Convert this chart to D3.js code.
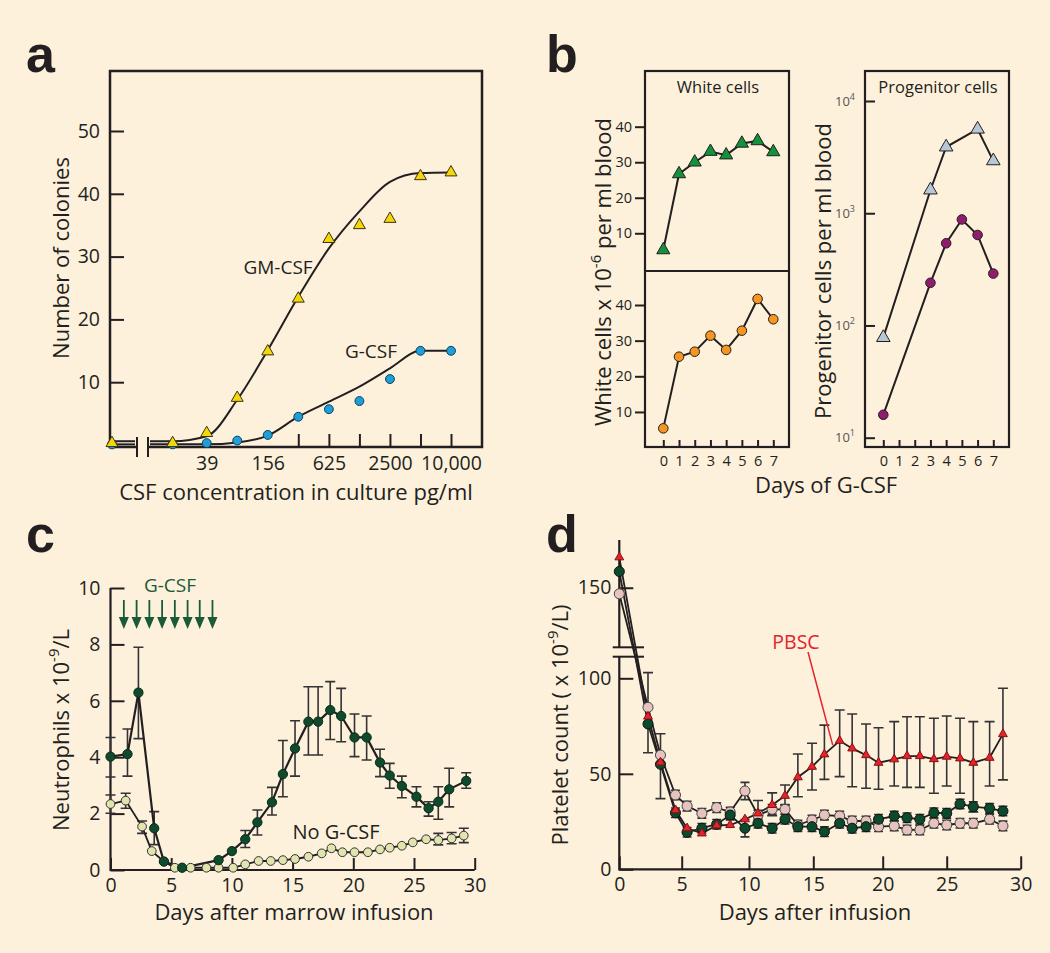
<!DOCTYPE html>
<html>
<head>
<meta charset="UTF-8" />
<title>G-CSF effects</title>
<style>
  body { margin: 0; background: #fdf1dc; }
  svg { display: block; }
  text { font-family: "Open Sans", sans-serif; fill: #231f20; }
</style>
</head>
<body>
<svg id="fig" width="1050" height="953"></svg>
<script src="https://d3js.org/d3.v7.min.js"></script>
<script>
// ---------- panel a : colonies vs CSF concentration ----------
const aConc    = [0, 18, 39, 78, 156, 312, 625, 1250, 2500, 5000, 10000];
const aGM      = [0.3, 0.3, 1.9, 7.5, 14.9, 23.3, 32.8, 35.0, 36.0, 42.8, 43.4];
const aG       = [0.1, 0.1, 0.3, 0.7, 1.6, 4.5, 5.7, 7.0, 10.5, 15.0, 15.0];
const aGMFit   = [0.6, 0.6, 1.4, 7.2, 15.1, 23.6, 31.3, 37.2, 41.9, 43.3, 43.4];
const aGFit    = [0.1, 0.1, 0.1, 0.4, 1.5, 4.5, 6.9, 9.3, 12.2, 15.0, 15.0];
const aYTicks  = [10, 20, 30, 40, 50];
const aXTicks  = [312, 625, 1250, 2500, 5000, 10000];
const aXLabels = [39, 156, 625, 2500, 10000];

// ---------- panel b : white cells / progenitors ----------
const bDays      = [0, 1, 2, 3, 4, 5, 6, 7];
const bWhiteTop  = [5.3, 26.7, 30.0, 33.0, 32.0, 35.3, 36.0, 32.9];
const bWhiteBot  = [5.4, 25.5, 26.9, 31.4, 27.4, 32.8, 41.7, 36.0];
const bGrayDays  = [0, 3, 4, 6, 7];
const bGray      = [78, 1610, 3890, 5610, 2930];
const bPurpDays  = [0, 3, 4, 5, 6, 7];
const bPurple    = [16, 240, 540, 880, 640, 290];
const bWhiteTicks = [10, 20, 30, 40];
const bLogTicks  = [10, 100, 1000, 10000];

// ---------- panel c : neutrophils ----------
const cDaysG = [0, 1.4, 2.3, 3.6, 4.4, 5.9, 8.9, 10.0, 11.1, 12.1, 13.3, 14.2, 15.2, 16.3, 17.1, 18.1, 19.0, 20.1, 21.1, 22.2, 23.0, 24.0, 25.2, 26.2, 27.0, 27.9, 29.3];
const cG     = [4.02, 4.11, 6.29, 1.48, 0.3, 0.08, 0.35, 0.67, 1.09, 1.69, 2.40, 3.40, 4.31, 5.26, 5.26, 5.67, 5.46, 4.70, 4.70, 3.81, 3.35, 2.98, 2.60, 2.19, 2.42, 2.86, 3.16];
const cGHi   = [4.7, 5.0, 7.9, 2.07, null, null, null, null, 1.4, 2.13, 2.93, 4.59, 5.29, 6.5, 6.5, 6.68, 6.44, 5.53, 5.46, 4.28, 3.78, 3.33, 2.95, 2.42, 2.95, 3.61, 3.45];
const cGLo   = [3.3, 3.33, 4.66, 0.9, null, null, null, null, 0.8, 1.24, 1.95, 2.60, 3.33, 4.08, 4.08, 4.63, 4.55, 4.02, 3.9, 3.31, 2.9, 2.56, 2.24, 1.91, 1.8, 2.24, 2.9];
const cDaysN = [0, 1.25, 2.6, 3.4, 4.4, 5.3, 6.6, 7.9, 8.9, 10.1, 11.1, 12.2, 13.2, 14.2, 15.2, 16.3, 17.4, 18.2, 19.1, 20.1, 21.2, 22.2, 23.0, 24.0, 24.9, 26.0, 27.0, 28.1, 29.1];
const cN     = [2.34, 2.46, 1.54, 0.67, 0.30, 0.08, 0.08, 0.08, 0.08, 0.08, 0.2, 0.32, 0.32, 0.35, 0.39, 0.47, 0.59, 0.77, 0.63, 0.63, 0.63, 0.73, 0.79, 0.86, 0.98, 1.09, 1.06, 1.12, 1.22];
const cNHi   = [2.66, 2.72, 1.74, null, null, null, null, null, null, null, null, null, null, null, null, null, null, null, null, null, null, null, null, null, null, null, 1.3, 1.33, 1.48];
const cNLo   = [2.01, 2.19, 1.3, null, null, null, null, null, null, null, null, null, null, null, null, null, null, null, null, null, null, null, null, null, null, null, 0.89, 0.93, 0.97];
const cArrowDays = [1.1, 2.15, 3.2, 4.25, 5.3, 6.35, 7.35, 8.4];
const cYTicks = [0, 2, 4, 6, 8, 10];
const cXTicks = [0, 5, 10, 15, 20, 25, 30];

// ---------- panel d : platelets ----------
const dDays  = [0, 2.3, 3.3, 4.5, 5.4, 6.5, 7.6, 8.6, 9.7, 10.7, 11.8, 12.8, 13.8, 14.9, 15.8, 16.9, 17.8, 18.8, 19.7, 20.9, 21.9, 22.9, 24.0, 25.0, 25.9, 26.8, 27.9, 28.8];
const dPBSC  = [165, 80, 56, 31, 21.5, 18.8, 23.0, 23.2, 26.2, 29.3, 33.7, 38.5, 48.2, 53.7, 60.2, 67.3, 63.3, 59.8, 55.8, 57.6, 59.3, 59.3, 57.7, 59.0, 58.1, 55.8, 58.4, 70.8];
const dPBSCHi = [null, 103, 71, null, null, null, null, null, null, 36, 40, 44.1, 60.4, 66, 75.5, 83.4, 81.3, 76.1, 74.1, 77.3, 79.9, 79.9, 79.1, 80.3, 79.1, 77.3, 77.3, 94.8];
const dPBSCLo = [null, 61, 37, null, null, null, null, null, null, 24, 28, 33.7, 38.0, 41.5, 47.1, 48.5, 43.2, 42.4, 41.9, 43.6, 42.9, 42.9, 39.8, 43.6, 39.8, 30, 43.6, 46.8];
const dGreen = [158, 76.1, 55.0, 29.6, 19.4, 21.5, 23.6, 28.4, 21.5, 24.1, 21.5, 26.2, 22.3, 22.3, 19.7, 24.1, 21.5, 22.3, 26.2, 27.9, 27.0, 26.2, 29.6, 29.3, 34.2, 32.8, 31.9, 30.5];
const dPink  = [147, 84.8, 59.8, 38.9, 33.1, 29.3, 32.3, 30.0, 41.0, 28.4, 31.4, 31.4, 23.2, 25.8, 28.4, 27.9, 25.3, 25.3, 22.3, 22.7, 20.6, 20.6, 24.1, 23.2, 24.1, 24.1, 26.2, 22.7];
const dSmallErr = [null, null, null, 2.5, 2.5, 2.5, 2.5, 2.5, 4.5, 2.5, 2.5, 2.5, 2.5, 2.5, 2.5, 2.5, 2.5, 2.5, 2.5, 2.5, 2.5, 2.5, 2.5, 2.5, 2.5, 2.5, 2.5, 2.5];
const dYTicks = [0, 50, 100, 150];
const dXTicks = [0, 5, 10, 15, 20, 25, 30];

const ink = "#231f20";
const svg = d3.select("#fig");

// ---------- helpers ----------
function pts(xs, ys) { return xs.map((x, i) => ({ x, y: ys[i], i })); }

function drawLine(g, data, xf, yf, width, curve) {
  g.append("path")
    .datum(data)
    .attr("fill", "none")
    .attr("stroke", ink)
    .attr("stroke-width", width || 2)
    .attr("d", d3.line().x(d => xf(d.x)).y(d => yf(d.y)).curve(curve || d3.curveLinear));
}

function drawSymbols(g, data, xf, yf, type, size, fill, stroke) {
  g.selectAll(null)
    .data(data)
    .enter()
    .append("path")
    .attr("transform", d => `translate(${xf(d.x)},${yf(d.y)})`)
    .attr("d", d3.symbol().type(type).size(size))
    .attr("fill", fill)
    .attr("stroke", stroke || ink)
    .attr("stroke-width", 1);
}

function errorBars(g, xs, lo, hi, xf, yf, cap) {
  const data = xs.map((x, i) => ({ x, lo: lo[i], hi: hi[i] })).filter(d => d.lo != null);
  const eb = g.append("g").attr("stroke", "#333").attr("stroke-width", 1.6).attr("fill", "none");
  eb.selectAll(null).data(data).enter().append("path")
    .attr("d", d => {
      const x = xf(d.x), a = yf(d.hi), b = yf(d.lo);
      return `M${x},${a}V${b}M${x - cap / 2},${a}H${x + cap / 2}M${x - cap / 2},${b}H${x + cap / 2}`;
    });
}

function styleAxis(g, size) {
  g.attr("font-size", size).attr("color", ink);
  g.select(".domain").remove();
  g.selectAll("line").attr("stroke-width", 2);
}

function label(txt, x, y, size, opts) {
  opts = opts || {};
  const t = svg.append("text")
    .attr("x", x).attr("y", y)
    .attr("font-size", size)
    .attr("text-anchor", opts.anchor || "middle")
    .text(txt);
  if (opts.fill) t.style("fill", opts.fill);
  if (opts.bold) t.attr("font-weight", "bold");
  if (opts.family) t.style("font-family", opts.family);
  return t;
}

// rotated title with a superscript part: parts = [normal, sup, normal]
function rotatedTitle(parts, cx, cy, size) {
  const t = svg.append("text")
    .attr("transform", `translate(${cx},${cy}) rotate(-90)`)
    .attr("text-anchor", "middle")
    .attr("dy", "0.35em")
    .attr("font-size", size);
  t.append("tspan").text(parts[0]);
  if (parts.length > 1) {
    t.append("tspan").attr("font-size", size * 0.68).attr("dy", -size * 0.42).text(parts[1]);
    t.append("tspan").attr("dy", size * 0.42).text(parts[2]);
  }
  return t;
}

function panelLetter(ch, x, y) {
  label(ch, x, y, 52, { anchor: "start", bold: true, family: "'Liberation Sans', Arial, sans-serif" });
}

// ================= panel a =================
{
  const g = svg.append("g");
  const xa = d3.scaleLog().base(2).domain([39, 10000]).range([206.7, 451]);
  const ya = d3.scaleLinear().domain([0, 50]).range([445, 131]);
  const zeroX = 112;       // the "no CSF" control sits left of the axis break
  const xA = c => c === 0 ? zeroX : xa(c);
  const brk = [137, 148];

  g.append("path")
    .attr("d", `M${brk[0]},447H110V71H482V447H${brk[1]}`)
    .attr("fill", "none").attr("stroke", ink).attr("stroke-width", 2.5);
  brk.forEach(b => g.append("line").attr("x1", b).attr("x2", b).attr("y1", 437).attr("y2", 457)
    .attr("stroke", ink).attr("stroke-width", 2));

  const ax = g.append("g").attr("transform", "translate(110,0)")
    .call(d3.axisLeft(ya).tickValues(aYTicks).tickSize(-14).tickPadding(10));
  styleAxis(ax, 19.5);

  const bx = g.append("g").attr("transform", "translate(0,447)")
    .call(d3.axisBottom(xa).tickValues(aXTicks).tickSize(-13).tickFormat(""));
  styleAxis(bx, 19.5);
  const bl = g.append("g").attr("transform", "translate(0,447)")
    .call(d3.axisBottom(xa).tickValues(aXLabels).tickSize(0).tickPadding(9)
      .tickFormat(d => d === 10000 ? "10,000" : d));
  styleAxis(bl, 19.5);

  // fitted curves: control segment up to the break, then the curve
  [aGMFit, aGFit].forEach(fit => {
    drawLine(g, [{ x: zeroX, y: fit[0] }, { x: brk[0] - 2, y: fit[0] }], d => d, ya, 2);
    const data = [{ x: brk[1] + 2, y: fit[1] }].concat(aConc.slice(1).map((c, i) => ({ x: xa(c), y: fit[i + 1] })));
    drawLine(g, data, d => d, ya, 2, d3.curveMonotoneX);
  });

  drawSymbols(g, pts(aConc, aG), xA, ya, d3.symbolCircle, 62, "#1e9fd8", "#0b3f5e");
  drawSymbols(g, pts(aConc, aGM), xA, ya, d3.symbolTriangle, 62, "#f4d60b", "#3a3416");

  label("GM-CSF", 278, 274, 19);
  label("G-CSF", 371, 358, 19);
  rotatedTitle(["Number of colonies"], 61, 258, 22);
  label("CSF concentration in culture pg/ml", 296, 500, 22);
  panelLetter("a", 26, 72);
}

// ================= panel b =================
{
  const g = svg.append("g");
  const xw = d3.scaleLinear().domain([0, 7]).range([663.3, 773.3]);
  const yTop = d3.scaleLinear().domain([0, 40]).range([268.8, 126.7]);
  const yBot = d3.scaleLinear().domain([0, 40]).range([447.6, 305]);
  const xp = d3.scaleLinear().domain([0, 7]).range([883.3, 993.3]);
  const yp = d3.scaleLog().domain([10, 10000]).range([437.7, 101]);

  g.append("rect").attr("x", 645).attr("y", 71).attr("width", 144).attr("height", 376)
    .attr("fill", "none").attr("stroke", ink).attr("stroke-width", 2.2);
  g.append("line").attr("x1", 645).attr("x2", 789).attr("y1", 271).attr("y2", 271)
    .attr("stroke", ink).attr("stroke-width", 2.2);
  g.append("rect").attr("x", 865).attr("y", 71).attr("width", 144).attr("height", 376)
    .attr("fill", "none").attr("stroke", ink).attr("stroke-width", 2.2);

  [yTop, yBot].forEach(ys => {
    const a = g.append("g").attr("transform", "translate(645,0)")
      .call(d3.axisLeft(ys).tickValues(bWhiteTicks).tickSize(10).tickPadding(3));
    styleAxis(a, 14.5);
  });
  const aw = g.append("g").attr("transform", "translate(0,447)")
    .call(d3.axisBottom(xw).tickValues(bDays).tickSize(-7).tickPadding(9).tickFormat(d3.format("d")));
  styleAxis(aw, 14.5);
  const ap = g.append("g").attr("transform", "translate(0,447)")
    .call(d3.axisBottom(xp).tickValues(bDays).tickSize(-7).tickPadding(9).tickFormat(d3.format("d")));
  styleAxis(ap, 14.5);

  const al = g.append("g").attr("transform", "translate(865,0)")
    .call(d3.axisLeft(yp).tickValues(bLogTicks).tickSize(-10).tickPadding(10).tickFormat(""));
  styleAxis(al, 13);
  al.selectAll(".tick text").each(function (d) {
    const t = d3.select(this).style("fill", "#555");
    t.append("tspan").text("10");
    t.append("tspan").attr("font-size", 9).attr("dy", -6).text(Math.round(Math.log10(d)));
  });

  drawLine(g, pts(bDays, bWhiteTop), xw, yTop);
  drawSymbols(g, pts(bDays, bWhiteTop), xw, yTop, d3.symbolTriangle, 75, "#13923b");
  drawLine(g, pts(bDays, bWhiteBot), xw, yBot);
  drawSymbols(g, pts(bDays, bWhiteBot), xw, yBot, d3.symbolCircle, 72, "#f6951f");

  drawLine(g, pts(bGrayDays, bGray), xp, yp);
  drawSymbols(g, pts(bGrayDays, bGray), xp, yp, d3.symbolTriangle, 80, "#b8c7d6");
  drawLine(g, pts(bPurpDays, bPurple), xp, yp);
  drawSymbols(g, pts(bPurpDays, bPurple), xp, yp, d3.symbolCircle, 72, "#8f1c6c");

  label("White cells", 718, 93, 16.5);
  label("Progenitor cells", 938, 93, 16.5);
  rotatedTitle(["White cells x 10", "-6", " per ml blood"], 603, 272, 22);
  rotatedTitle(["Progenitor cells per ml blood"], 823, 271, 22);
  label("Days of G-CSF", 826, 493, 22);
  panelLetter("b", 546, 72);
}

// ================= panel c =================
{
  const g = svg.append("g");
  const xc = d3.scaleLinear().domain([0, 30]).range([110.5, 474.7]);
  const yc = d3.scaleLinear().domain([0, 10]).range([870, 588]);

  g.append("path").attr("d", `M${xc(0)},${yc(10)}V${yc(0)}H${xc(30)}`)
    .attr("fill", "none").attr("stroke", ink).attr("stroke-width", 2.2);
  const ay = g.append("g").attr("transform", `translate(${xc(0)},0)`)
    .call(d3.axisLeft(yc).tickValues(cYTicks).tickSize(-14).tickPadding(10));
  styleAxis(ay, 19.5);
  const ax = g.append("g").attr("transform", `translate(0,${yc(0)})`)
    .call(d3.axisBottom(xc).tickValues(cXTicks).tickSize(-12).tickPadding(8));
  styleAxis(ax, 19.5);

  errorBars(g, cDaysN, cNLo, cNHi, xc, yc, 10);
  errorBars(g, cDaysG, cGLo, cGHi, xc, yc, 10);
  drawLine(g, pts(cDaysN, cN), xc, yc, 1.8);
  drawLine(g, pts(cDaysG, cG), xc, yc, 2.2);
  drawSymbols(g, pts(cDaysN, cN), xc, yc, d3.symbolCircle, 60, "#e2e4b0", "#333");
  drawSymbols(g, pts(cDaysG, cG), xc, yc, d3.symbolCircle, 68, "#0e4a2b", "#0a2a18");

  // G-CSF injection arrows
  const arrowCol = "#1b5a38";
  const ar = g.append("g").selectAll(null).data(cArrowDays).enter().append("g")
    .attr("transform", d => `translate(${xc(d)},0)`);
  ar.append("line").attr("y1", 600).attr("y2", 619).attr("stroke", arrowCol).attr("stroke-width", 1.8);
  ar.append("path").attr("d", "M-5,617L5,617L0,629Z").attr("fill", arrowCol);

  label("G-CSF", 170, 592, 19).style("fill", arrowCol);
  label("No G-CSF", 336, 839, 20);
  rotatedTitle(["Neutrophils x 10", "-9", "/L"], 61, 730, 22);
  label("Days after marrow infusion", 294, 920, 22);
  panelLetter("c", 26, 552);
}

// ================= panel d =================
{
  const g = svg.append("g");
  const xd = d3.scaleLinear().domain(dXTicks).range([619.3, 681.7, 749, 813.3, 882.7, 946.7, 1020.7]);
  // broken axis: 0-111 below the break, 121-175 above it
  const yd = d3.scaleLinear().domain([0, 111, 121, 175]).range([869.3, 657.3, 646.6, 537]);
  const x0 = xd(0);

  g.append("path").attr("d", `M${x0},540V647.3M${x0},656.7V${yd(0)}H${xd(30)}`)
    .attr("fill", "none").attr("stroke", ink).attr("stroke-width", 2.2);
  [647.3, 656.7].forEach(y => g.append("line").attr("x1", 612.7).attr("x2", 644).attr("y1", y).attr("y2", y)
    .attr("stroke", ink).attr("stroke-width", 2));

  const ay = g.append("g").attr("transform", `translate(${x0},0)`)
    .call(d3.axisLeft(yd).tickValues(dYTicks).tickSize(-14).tickPadding(8));
  styleAxis(ay, 19.5);
  const ax = g.append("g").attr("transform", `translate(0,${yd(0)})`)
    .call(d3.axisBottom(xd).tickValues(dXTicks).tickSize(-13).tickPadding(8));
  styleAxis(ax, 19.5);

  errorBars(g, dDays, dPBSCLo, dPBSCHi, xd, yd, 10);
  const lo = arr => arr.map((v, i) => dSmallErr[i] == null ? null : v - dSmallErr[i]);
  const hi = arr => arr.map((v, i) => dSmallErr[i] == null ? null : v + dSmallErr[i]);
  errorBars(g, dDays, lo(dGreen), hi(dGreen), xd, yd, 9);
  errorBars(g, dDays, lo(dPink), hi(dPink), xd, yd, 9);

  drawLine(g, pts(dDays, dPink), xd, yd, 1.8);
  drawLine(g, pts(dDays, dGreen), xd, yd, 1.8);
  drawLine(g, pts(dDays, dPBSC), xd, yd, 1.8);
  drawSymbols(g, pts(dDays, dPink), xd, yd, d3.symbolCircle, 80, "#e6c3bf", "#444");
  drawSymbols(g, pts(dDays, dGreen), xd, yd, d3.symbolCircle, 80, "#0b4a2c", "#111");
  drawSymbols(g, pts(dDays, dPBSC), xd, yd, d3.symbolTriangle, 34, "#e4232b", "#8a1015");

  const red = "#e4232b";
  label("PBSC", 796, 649, 19.5).style("fill", red);
  g.append("line").attr("x1", 808).attr("y1", 652).attr("x2", xd(16.4)).attr("y2", yd(65))
    .attr("stroke", red).attr("stroke-width", 1.5);

  rotatedTitle(["Platelet count ( x 10", "-9", "/L)"], 560, 725, 22);
  label("Days after infusion", 815, 920, 22);
  panelLetter("d", 546, 552);
}
</script>
</body>
</html>
